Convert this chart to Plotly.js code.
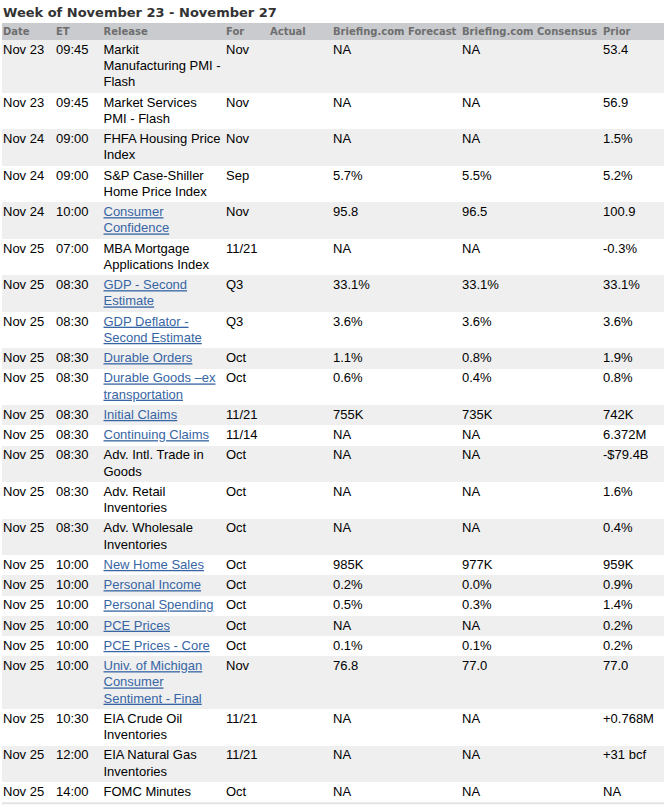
<!DOCTYPE html>
<html><head><meta charset="utf-8">
<script src="https://cdn.plot.ly/plotly-3.0.1.min.js"></script>
<style>html,body{margin:0;padding:0;background:#fff;overflow:hidden}#chart{width:664px;height:809px}</style>
</head><body><div id="chart"></div><script>
(function () {
// ---- data ----
const title = 'Week of November 23 - November 27';
const columns = ['Date', 'ET', 'Release', 'For', 'Actual', 'Briefing.com Forecast', 'Briefing.com Consensus', 'Prior'];
const dates = ['Nov 23','Nov 23','Nov 24','Nov 24','Nov 24','Nov 25','Nov 25','Nov 25','Nov 25','Nov 25','Nov 25','Nov 25','Nov 25','Nov 25','Nov 25','Nov 25','Nov 25','Nov 25','Nov 25','Nov 25','Nov 25','Nov 25','Nov 25','Nov 25'];
const times = ['09:45','09:45','09:00','09:00','10:00','07:00','08:30','08:30','08:30','08:30','08:30','08:30','08:30','08:30','08:30','10:00','10:00','10:00','10:00','10:00','10:00','10:30','12:00','14:00'];
const releases = [
  'Markit<br>Manufacturing PMI -<br>Flash',
  'Market Services<br>PMI - Flash',
  'FHFA Housing Price<br>Index',
  'S&P Case-Shiller<br>Home Price Index',
  'Consumer<br>Confidence',
  'MBA Mortgage<br>Applications Index',
  'GDP - Second<br>Estimate',
  'GDP Deflator -<br>Second Estimate',
  'Durable Orders',
  'Durable Goods \u2013ex<br>transportation',
  'Initial Claims',
  'Continuing Claims',
  'Adv. Intl. Trade in<br>Goods',
  'Adv. Retail<br>Inventories',
  'Adv. Wholesale<br>Inventories',
  'New Home Sales',
  'Personal Income',
  'Personal Spending',
  'PCE Prices',
  'PCE Prices - Core',
  'Univ. of Michigan<br>Consumer<br>Sentiment - Final',
  'EIA Crude Oil<br>Inventories',
  'EIA Natural Gas<br>Inventories',
  'FOMC Minutes'
];
const linked = [false,false,false,false,true,false,true,true,true,true,true,true,false,false,false,true,true,true,true,true,true,false,false,false];
const periods = ['Nov','Nov','Nov','Sep','Nov','11/21','Q3','Q3','Oct','Oct','11/21','11/14','Oct','Oct','Oct','Oct','Oct','Oct','Oct','Oct','Nov','11/21','11/21','Oct'];
const actuals = ['','','','','','','','','','','','','','','','','','','','','','','',''];
const forecasts = ['NA','NA','NA','5.7%','95.8','NA','33.1%','3.6%','1.1%','0.6%','755K','NA','NA','NA','NA','985K','0.2%','0.5%','NA','0.1%','76.8','NA','NA','NA'];
const consensus = ['NA','NA','NA','5.5%','96.5','NA','33.1%','3.6%','0.8%','0.4%','735K','NA','NA','NA','NA','977K','0.0%','0.3%','NA','0.1%','77.0','NA','NA','NA'];
const priors = ['53.4','56.9','1.5%','5.2%','100.9','-0.3%','33.1%','3.6%','1.9%','0.8%','742K','6.372M','-$79.4B','1.6%','0.4%','959K','0.9%','1.4%','0.2%','0.2%','77.0','+0.768M','+31 bcf','NA'];

// ---- layout / style ----
const W = 664, H = 809;
const colX = [3, 56, 103.5, 226, 270, 333, 462, 603];
const tableLeft = 2;
const headerTop = 23, headerH = 17;
const rowPad = 4, lineH = 16.25, capOffset = 9.3;
const bodySize = 13, headSize = 10;
const linkColor = '#3765a4';

const esc = s => s.replace(/&/g, '&amp;').replace(/</g, '&lt;').replace(/>/g, '&gt;');
const colData = [dates, times, releases, periods, actuals, forecasts, consensus, priors];
const nRows = dates.length;

// row geometry from the number of text lines
const rowTops = [], rowHs = [];
let cursorY = headerTop + headerH;
for (let i = 0; i < nRows; i++) {
  let n = 1;
  colData.forEach(col => { n = Math.max(n, String(col[i]).split('<br>').length); });
  const h = rowPad + lineH * n;
  rowTops.push(cursorY); rowHs.push(h); cursorY += h;
}
const tableBottom = cursorY;

const traces = [];
// row backgrounds
traces.push({
  type: 'bar', orientation: 'h',
  y: rowTops.map((t, i) => t + rowHs[i] / 2),
  x: rowTops.map(() => W - tableLeft),
  base: tableLeft,
  width: rowHs,
  marker: {color: rowTops.map((t, i) => i % 2 === 0 ? '#efefef' : '#ffffff'), line: {width: 0}},
  hoverinfo: 'skip'
});
// header background
traces.push({
  type: 'bar', orientation: 'h',
  y: [headerTop + headerH / 2], x: [W - tableLeft], base: tableLeft, width: [headerH],
  marker: {color: '#c9cbce', line: {width: 0}}, hoverinfo: 'skip'
});
// header labels
traces.push({
  type: 'scatter', mode: 'text',
  x: colX, y: columns.map(() => headerTop + 9 + 0.9),
  text: columns.map(esc), textposition: 'middle right',
  textfont: {family: 'DejaVu Sans', size: headSize, color: '#6e6e6e', weight: 'bold'},
  hoverinfo: 'skip', cliponaxis: false
});
// body cells, one trace per column
colData.forEach((col, c) => {
  const xs = [], ys = [], ts = [];
  col.forEach((v, i) => {
    String(v).split('<br>').forEach((line, j) => {
      if (line === '') return;
      let t = esc(line);
      if (c === 2 && linked[i]) t = '<span style="color:' + linkColor + ';text-decoration:underline">' + t + '</span>';
      xs.push(colX[c]);
      ys.push(rowTops[i] + capOffset + 1.4 + j * lineH);
      ts.push(t);
    });
  });
  traces.push({
    type: 'scatter', mode: 'text', x: xs, y: ys, text: ts,
    textposition: 'middle right',
    textfont: {family: 'Liberation Sans, Arial, sans-serif', size: bodySize, color: '#000000'},
    hoverinfo: 'skip', cliponaxis: false
  });
});

const layout = {
  width: W, height: H,
  margin: {l: 0, r: 0, t: 0, b: 0, pad: 0},
  paper_bgcolor: '#ffffff', plot_bgcolor: '#ffffff',
  showlegend: false, bargap: 0,
  title: {
    text: title, x: 3 / W, xref: 'paper', xanchor: 'left',
    y: 1 - 12 / H, yref: 'container', yanchor: 'middle',
    font: {family: 'DejaVu Sans', size: 13, color: '#333333', weight: 'bold'}
  },
  xaxis: {range: [0, W], visible: false, fixedrange: true},
  yaxis: {range: [H, 0], visible: false, fixedrange: true},
  shapes: [{type: 'line', xref: 'x', yref: 'y', x0: tableLeft, x1: W, y0: tableBottom + 1, y1: tableBottom + 1,
            line: {color: '#e4e4e4', width: 2}}]
};
Plotly.newPlot('chart', traces, layout, {staticPlot: true, displayModeBar: false});
})();
</script></body></html>
